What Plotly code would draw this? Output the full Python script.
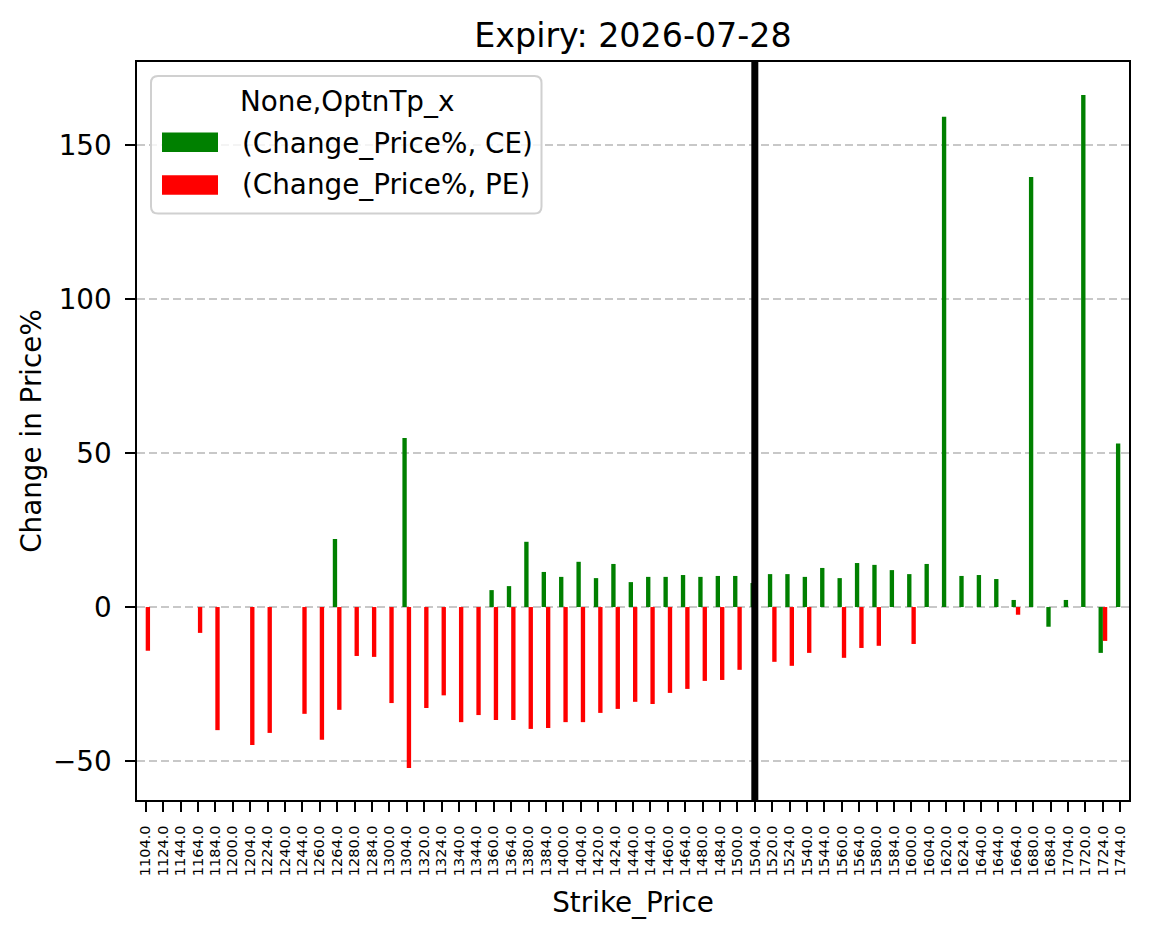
import plotly.graph_objects as go

strikes = [1104, 1124, 1144, 1164, 1184, 1200, 1204, 1224, 1240, 1244,
           1260, 1264, 1280, 1284, 1300, 1304, 1320, 1324, 1340, 1344,
           1360, 1364, 1380, 1384, 1400, 1404, 1420, 1424, 1440, 1444,
           1460, 1464, 1480, 1484, 1500, 1504, 1520, 1524, 1540, 1544,
           1560, 1564, 1580, 1584, 1600, 1604, 1620, 1624, 1640, 1644,
           1664, 1680, 1684, 1704, 1720, 1724, 1744]
tick_labels = [f"{s:.1f}" for s in strikes]

ce_change = [None, None, None, None, None, None, None, None, None, None,
             None, 22.1, None, None, None, 54.9, None, None, None, None,
             5.5, 6.8, 21.2, 11.4, 9.8, 14.7, 9.4, 14.0, 8.1, 9.8,
             9.8, 10.4, 9.8, 10.1, 10.1, 7.8, 10.7, 10.7, 9.8, 12.7,
             9.4, 14.3, 13.7, 12.0, 10.7, 14.0, 159.3, 10.1, 10.4, 9.1,
             2.3, 139.7, -6.4, 2.3, 166.4, -14.9, 53.1]
pe_change = [-14.2, None, None, -8.4, -40.0, None, -44.8, -40.9, None, -34.7,
             -43.1, -33.4, -15.9, -16.2, -31.2, -52.3, -32.8, -28.7, -37.4, -35.1,
             -36.7, -36.7, -39.6, -39.3, -37.4, -37.4, -34.4, -33.1, -30.8, -31.5,
             -27.9, -26.6, -24.0, -23.7, -20.4, None, -17.8, -19.1, -14.9, None,
             -16.5, -13.3, -12.6, None, -12.0, None, None, None, None, None,
             -2.5, None, None, None, None, -11.0, None]

atm_strike = "1504.0"
title_text = "Expiry: 2026-07-28"
legend_title = "None,OptnTp_x"
series_names = ["(Change_Price%, CE)", "(Change_Price%, PE)"]
colors = ["#008000", "#ff0000"]

FONT = "DejaVu Sans"
fig = go.Figure()
fig.add_trace(go.Bar(x=tick_labels, y=ce_change, name=series_names[0],
                     marker=dict(color=colors[0], line=dict(width=0)), showlegend=False))
fig.add_trace(go.Bar(x=tick_labels, y=pe_change, name=series_names[1],
                     marker=dict(color=colors[1], line=dict(width=0)), showlegend=False))

# plot area geometry in pixels (for legend layout)
L, R, T, B = 137, 1129, 62, 800
W, H = R - L, B - T
def px(p): return (p - L) / W
def py(p): return (B - p) / H

atm_idx = tick_labels.index(atm_strike)

shapes = []
# vertical ATM line
shapes.append(dict(type="line", xref="x", yref="paper", x0=atm_idx, x1=atm_idx,
                   y0=0, y1=1, line=dict(color="black", width=7), layer="above"))
# legend frame with rounded corners
x0, x1, y0, y1 = px(151), px(541.5), py(213.5), py(76)
rx, ry = 7 / W, 7 / H
path = (f"M {x0+rx},{y0} L {x1-rx},{y0} Q {x1},{y0} {x1},{y0+ry} "
        f"L {x1},{y1-ry} Q {x1},{y1} {x1-rx},{y1} L {x0+rx},{y1} "
        f"Q {x0},{y1} {x0},{y1-ry} L {x0},{y0+ry} Q {x0},{y0} {x0+rx},{y0} Z")
shapes.append(dict(type="path", xref="paper", yref="paper", path=path,
                   fillcolor="rgba(255,255,255,0.8)", line=dict(color="#d0d0d0", width=2),
                   layer="above"))
# legend patches
for (top, bot), c in zip([(132.6, 152.1), (175.2, 194.8)], colors):
    shapes.append(dict(type="rect", xref="paper", yref="paper",
                       x0=px(162), x1=px(218), y0=py(bot), y1=py(top),
                       fillcolor=c, line=dict(width=0), layer="above"))

annotations = [
    dict(xref="paper", yref="paper", x=px(346.5), y=py(101), text=legend_title,
         showarrow=False, xanchor="center", yanchor="middle",
         font=dict(family=FONT, size=27.8, color="black")),
]
for yc, name in zip([143, 185], series_names):
    annotations.append(dict(xref="paper", yref="paper", x=px(240), y=py(yc), text=name,
                            showarrow=False, xanchor="left", yanchor="middle",
                            font=dict(family=FONT, size=27.8, color="black")))

fig.update_layout(
    width=1149, height=939,
    margin=dict(l=L, r=1149 - R, t=T, b=939 - B),
    paper_bgcolor="white", plot_bgcolor="white",
    font=dict(family=FONT, size=27.8, color="black"),
    barmode="group", bargap=0.5, bargroupgap=0,
    title=dict(text=title_text, x=0.5, xref="paper", xanchor="center",
               y=(939 - 35) / 939, yref="container", yanchor="middle",
               font=dict(family=FONT, size=33.3, color="black")),
    shapes=shapes, annotations=annotations,
    showlegend=False,
)
fig.update_xaxes(
    type="category", categoryorder="array", categoryarray=tick_labels,
    range=[-0.5, len(tick_labels) - 0.5],
    tickmode="array", tickvals=tick_labels, ticktext=tick_labels,
    showline=True, linecolor="black", linewidth=2, mirror=True,
    ticks="outside", ticklen=9.7, tickwidth=2, tickcolor="black",
    tickangle=-90, tickfont=dict(family=FONT, size=14.5, color="black"),
    ticklabelstandoff=8,
    showgrid=False, zeroline=False,
    title=dict(text="Strike_Price", standoff=17, font=dict(family=FONT, size=27.8)),
    layer="above traces",
)
fig.update_yaxes(
    range=[-62.7, 177.1],
    tickvals=[-50, 0, 50, 100, 150],
    showline=True, linecolor="black", linewidth=2, mirror=True,
    ticks="outside", ticklen=9.7, tickwidth=2, tickcolor="black",
    tickfont=dict(family=FONT, size=27.8, color="black"),
    ticklabelstandoff=8,
    showgrid=True, gridcolor="#c8c8c8", gridwidth=2, griddash="8px,4px",
    zeroline=False,
    title=dict(text="Change in Price%", standoff=3, font=dict(family=FONT, size=27.8)),
    layer="above traces",
)

fig.write_html("out.html")
